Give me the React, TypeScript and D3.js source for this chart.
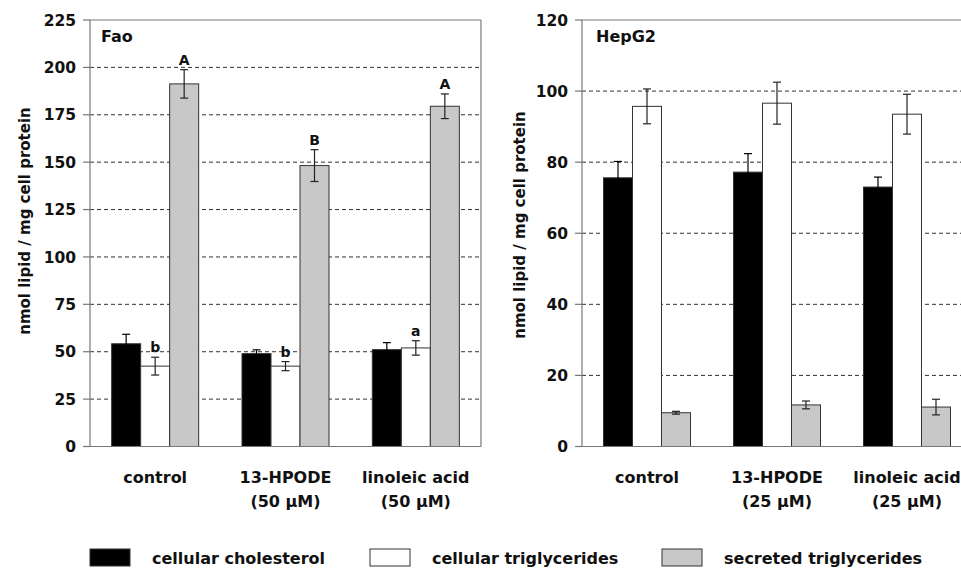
import React from 'react';
import * as d3 from 'd3';

// groups (x categories) and series
const faoGroups = ['control', '13-HPODE', 'linoleic acid'];
const faoGroupSub = ['', '(50 µM)', '(50 µM)'];
const hepGroups = ['control', '13-HPODE', 'linoleic acid'];
const hepGroupSub = ['', '(25 µM)', '(25 µM)'];
const series = ['cellular cholesterol', 'cellular triglycerides', 'secreted triglycerides'];
const seriesFill = ['#000000', '#ffffff', '#c8c8c8'];

// Fao values (per group: cholesterol, cell TG, secreted TG)
const faoValues = [
  [54.2, 42.4, 191.3],
  [49.0, 42.4, 148.2],
  [51.1, 52.0, 179.5],
];
const faoErrors = [
  [5.0, 4.7, 7.5],
  [2.0, 2.4, 8.4],
  [3.7, 3.8, 6.5],
];
const faoLetters = [
  ['', 'b', 'A'],
  ['', 'b', 'B'],
  ['', 'a', 'A'],
];
const faoTicks = [0, 25, 50, 75, 100, 125, 150, 175, 200, 225];

// HepG2 values
const hepValues = [
  [75.6, 95.7, 9.5],
  [77.2, 96.6, 11.7],
  [73.0, 93.5, 11.1],
];
const hepErrors = [
  [4.6, 4.9, 0.4],
  [5.2, 5.9, 1.1],
  [2.8, 5.6, 2.2],
];
const hepTicks = [0, 20, 40, 60, 80, 100, 120];

const FONT = '"DejaVu Sans", "Liberation Sans", Arial, sans-serif';

interface PanelProps {
  title: string;
  groups: string[];
  groupSub: string[];
  values: number[][];
  errors: number[][];
  letters?: string[][];
  ticks: number[];
  left: number;
  right: number;
  titleX: number;
}

const Panel: React.FC<PanelProps> = ({ title, groups, groupSub, values, errors, letters, ticks, left, right, titleX }) => {
  const top = 20;
  const bottom = 446.5;
  const maxV = ticks[ticks.length - 1];
  const y = d3.scaleLinear().domain([0, maxV]).range([bottom, top]);
  const x0 = d3.scaleBand<string>().domain(groups).range([left, right]).padding(0);
  const groupW = 87;
  const x1 = d3.scaleBand<string>().domain(series).range([0, groupW]).padding(0);
  const bw = x1.bandwidth();
  const cap = 4;

  return (
    <g>
      {/* gridlines */}
      {ticks.filter(t => t > 0 && t < maxV).map(t => (
        <line key={'g' + t} x1={left} x2={right} y1={y(t)} y2={y(t)}
          stroke="#333" strokeWidth={1} strokeDasharray="4,3" />
      ))}
      {/* top border + right border */}
      <line x1={left} x2={right} y1={top} y2={top} stroke="#777" strokeWidth={1.2} />
      <line x1={right} x2={right} y1={top} y2={bottom} stroke="#777" strokeWidth={1.2} />
      {/* bars */}
      {groups.map((g, gi) => {
        const gx = (x0(g) as number) + (x0.bandwidth() - groupW) / 2;
        return (
          <g key={g}>
            {series.map((s, si) => {
              const v = values[gi][si];
              const e = errors[gi][si];
              const bx = gx + (x1(s) as number);
              const cx = bx + bw / 2;
              const lt = letters ? letters[gi][si] : '';
              const ec = si === 0 ? '#000' : '#222';
              return (
                <g key={s}>
                  <rect x={bx} y={y(v)} width={bw} height={bottom - y(v)}
                    fill={seriesFill[si]} stroke="#333" strokeWidth={1} />
                  <line x1={cx} x2={cx} y1={y(v + e)} y2={y(v - e)} stroke={ec} strokeWidth={1.2} />
                  <line x1={cx - cap} x2={cx + cap} y1={y(v + e)} y2={y(v + e)} stroke={ec} strokeWidth={1.2} />
                  <line x1={cx - cap} x2={cx + cap} y1={y(v - e)} y2={y(v - e)} stroke={ec} strokeWidth={1.2} />
                  {lt && (
                    <text x={cx} y={y(v + e) - 5} textAnchor="middle" fontFamily={FONT}
                      fontWeight="bold" fontSize={14} fill="#111">{lt}</text>
                  )}
                </g>
              );
            })}
            <text x={(x0(g) as number) + x0.bandwidth() / 2} y={483} textAnchor="middle"
              fontFamily={FONT} fontWeight="bold" fontSize={16} fill="#111">{g}</text>
            {groupSub[gi] && (
              <text x={(x0(g) as number) + x0.bandwidth() / 2} y={507} textAnchor="middle"
                fontFamily={FONT} fontWeight="bold" fontSize={16} fill="#111">{groupSub[gi]}</text>
            )}
          </g>
        );
      })}
      {/* axes */}
      <line x1={left} x2={left} y1={top} y2={bottom} stroke="#777" strokeWidth={1.2} />
      <line x1={left} x2={right} y1={bottom} y2={bottom} stroke="#777" strokeWidth={1.2} />
      {ticks.map(t => (
        <g key={'t' + t}>
          <line x1={left - 7} x2={left} y1={y(t)} y2={y(t)} stroke="#777" strokeWidth={1.2} />
          <text x={left - 14} y={y(t)} dy="0.36em" textAnchor="end" fontFamily={FONT}
            fontWeight="bold" fontSize={15.5} fill="#111">{t}</text>
        </g>
      ))}
      <text x={titleX} y={42} fontFamily={FONT} fontWeight="bold" fontSize={16} fill="#111">{title}</text>
    </g>
  );
};

export default function App() {
  const width = 961;
  const height = 569;
  const legendX = [90, 370, 662];
  return (
    <svg width={width} height={height} style={{ position: 'absolute', left: 0, top: 0, background: '#fff' }}>
      <rect width={width} height={height} fill="#fff" />
      <Panel title="Fao" groups={faoGroups} groupSub={faoGroupSub} values={faoValues} errors={faoErrors}
        letters={faoLetters} ticks={faoTicks} left={90} right={481} titleX={101} />
      <Panel title="HepG2" groups={hepGroups} groupSub={hepGroupSub} values={hepValues} errors={hepErrors}
        ticks={hepTicks} left={582} right={972} titleX={596} />
      <text transform="translate(30,221) rotate(-90)" textAnchor="middle" fontFamily={FONT}
        fontWeight="bold" fontSize={15} fill="#111">nmol lipid / mg cell protein</text>
      <text transform="translate(525,225) rotate(-90)" textAnchor="middle" fontFamily={FONT}
        fontWeight="bold" fontSize={15} fill="#111">nmol lipid / mg cell protein</text>
      {series.map((s, i) => (
        <g key={s}>
          <rect x={legendX[i]} y={549} width={40} height={17} fill={seriesFill[i]} stroke="#333" strokeWidth={1} />
          <text x={legendX[i] + 62} y={564} fontFamily={FONT} fontWeight="bold" fontSize={16} fill="#111">{s}</text>
        </g>
      ))}
    </svg>
  );
}
